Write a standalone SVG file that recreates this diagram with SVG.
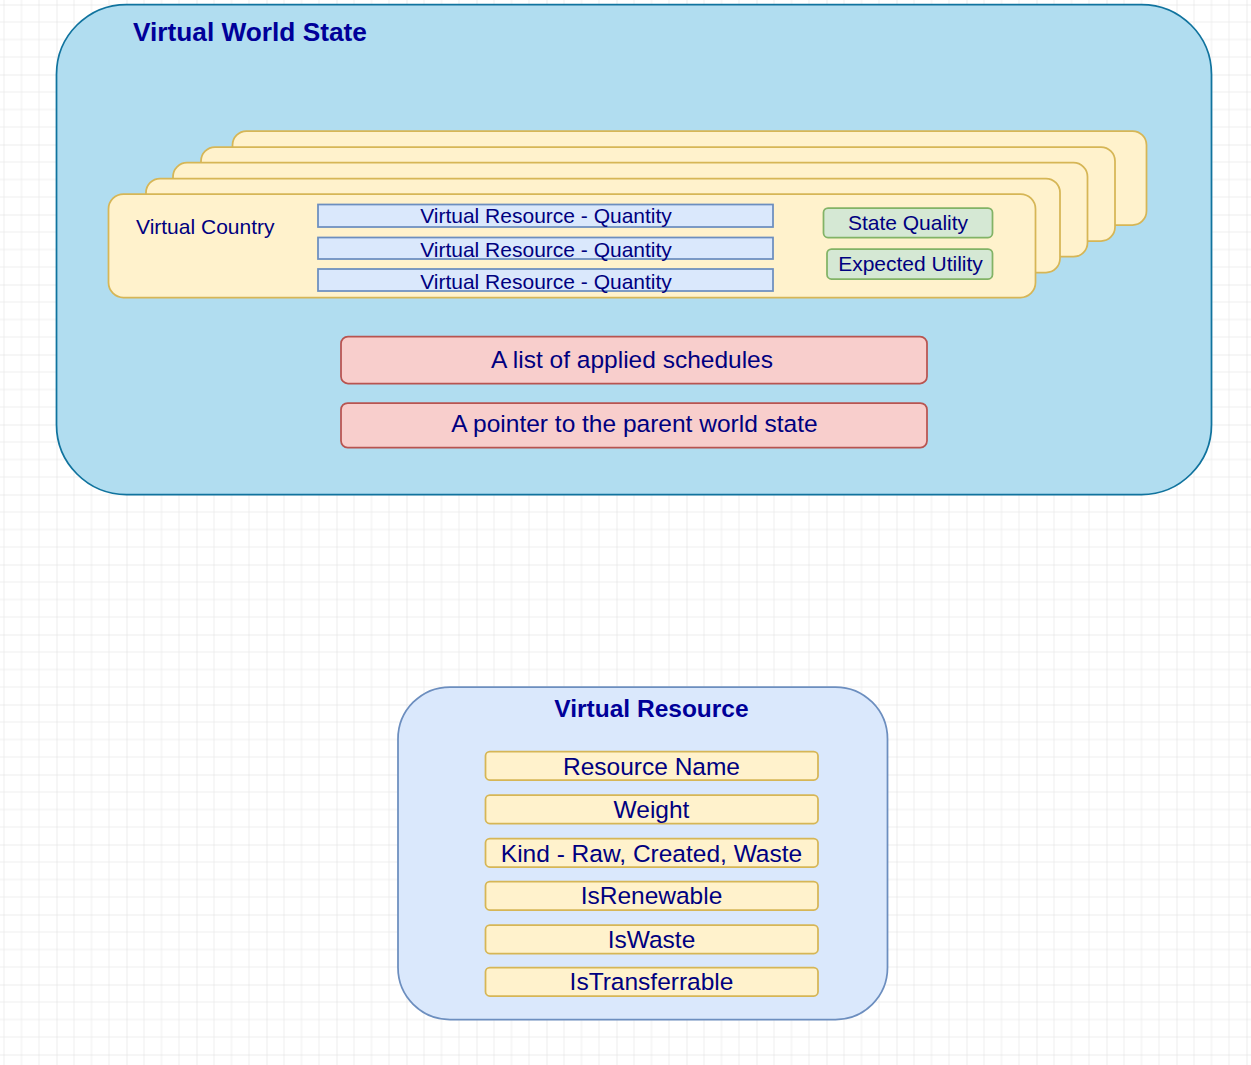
<svg xmlns="http://www.w3.org/2000/svg" width="1251" height="1065" viewBox="0 0 1251 1065">
  <defs>
    <pattern id="grid" patternUnits="userSpaceOnUse" x="-13.5" y="4.5" width="70" height="70">
      <path d="M17.5 0V70M35 0V70M52.5 0V70M0 17.5H70M0 35H70M0 52.5H70" stroke="#eeeeee" stroke-width="1" fill="none"/>
      <path d="M0 0V70M0 0H70" stroke="#dcdcdc" stroke-width="1" fill="none"/>
    </pattern>
    <style>
      .t { font-family: "Liberation Sans", Arial, sans-serif; fill: #000080; }
      .c { text-anchor: middle; }
      .b { font-weight: bold; fill: #000099; }
      .s21 { font-size: 21px; }
      .s24 { font-size: 24.5px; }
      .card { fill: #fff2cc; stroke: #d6b656; stroke-width: 1.75; }
      .qty { fill: #dae8fc; stroke: #6c8ebf; stroke-width: 1.75; }
      .green { fill: #d5e8d4; stroke: #82b366; stroke-width: 1.75; }
      .red { fill: #f8cecc; stroke: #b85450; stroke-width: 1.75; }
    </style>
  </defs>
  <rect x="0" y="0" width="1251" height="1065" fill="#ffffff"/>
  <rect x="0" y="0" width="1251" height="1065" fill="url(#grid)"/>

  <g id="virtual-world-state">
    <rect x="56.5" y="4.5" width="1155" height="490" rx="70" ry="70" fill="#b1ddf0" stroke="#10739e" stroke-width="1.75"/>
    <text class="t b" x="133" y="40.7" font-size="26.25">Virtual World State</text>
  </g>

  <g id="country-stack">
    <rect class="card" x="232.5" y="131" width="914" height="94" rx="14" ry="14"/>
    <rect class="card" x="201" y="147" width="914" height="94" rx="14" ry="14"/>
    <rect class="card" x="173" y="162.7" width="914.5" height="94" rx="14" ry="14"/>
    <rect class="card" x="146" y="178.5" width="914" height="94" rx="14" ry="14"/>
  </g>

  <g id="virtual-country">
    <rect class="card" x="108.5" y="194" width="927" height="103.5" rx="15" ry="15"/>
    <text class="t s21" x="136" y="234">Virtual Country</text>
  </g>

  <g id="resource-quantity-1">
    <rect class="qty" x="318" y="204.5" width="455" height="22.5"/>
    <text class="t c s21" x="546" y="222.5">Virtual Resource - Quantity</text>
  </g>
  <g id="resource-quantity-2">
    <rect class="qty" x="318" y="237.5" width="455" height="21.5"/>
    <text class="t c s21" x="546" y="256.7">Virtual Resource - Quantity</text>
  </g>
  <g id="resource-quantity-3">
    <rect class="qty" x="318" y="269" width="455" height="22"/>
    <text class="t c s21" x="546" y="288.5">Virtual Resource - Quantity</text>
  </g>

  <g id="state-quality">
    <rect class="green" x="823.5" y="208" width="169" height="29.5" rx="4.5" ry="4.5"/>
    <text class="t c s21" x="908" y="230">State Quality</text>
  </g>
  <g id="expected-utility">
    <rect class="green" x="827" y="249" width="165.5" height="30" rx="4.5" ry="4.5"/>
    <text class="t c s21" x="910.5" y="270.7">Expected Utility</text>
  </g>

  <g id="applied-schedules">
    <rect class="red" x="341" y="336.5" width="586" height="47" rx="7" ry="7"/>
    <text class="t c s24" x="632" y="368.3">A list of applied schedules</text>
  </g>
  <g id="parent-pointer">
    <rect class="red" x="341" y="403" width="586" height="44.5" rx="6.7" ry="6.7"/>
    <text class="t c s24" x="634.5" y="431.7">A pointer to the parent world state</text>
  </g>

  <g id="virtual-resource">
    <rect x="398" y="687" width="489.5" height="332.5" rx="52" ry="52" fill="#dae8fc" stroke="#6c8ebf" stroke-width="1.75"/>
    <text class="t c b s24" x="651.5" y="716.7">Virtual Resource</text>
  </g>
  <g id="resource-name">
    <rect class="card" x="485.5" y="751.5" width="332.5" height="28.5" rx="4.3" ry="4.3"/>
    <text class="t c s24" x="651.5" y="775">Resource Name</text>
  </g>
  <g id="weight">
    <rect class="card" x="485.5" y="795" width="332.5" height="28.5" rx="4.3" ry="4.3"/>
    <text class="t c s24" x="651.5" y="817.5">Weight</text>
  </g>
  <g id="kind">
    <rect class="card" x="485.5" y="838.5" width="332.5" height="28.5" rx="4.3" ry="4.3"/>
    <text class="t c s24" x="651.5" y="861.5">Kind - Raw, Created, Waste</text>
  </g>
  <g id="is-renewable">
    <rect class="card" x="485.5" y="881.5" width="332.5" height="28.5" rx="4.3" ry="4.3"/>
    <text class="t c s24" x="651.5" y="903.5">IsRenewable</text>
  </g>
  <g id="is-waste">
    <rect class="card" x="485.5" y="925" width="332.5" height="28.5" rx="4.3" ry="4.3"/>
    <text class="t c s24" x="651.5" y="947.5">IsWaste</text>
  </g>
  <g id="is-transferrable">
    <rect class="card" x="485.5" y="967.5" width="332.5" height="28.5" rx="4.3" ry="4.3"/>
    <text class="t c s24" x="651.5" y="989.5">IsTransferrable</text>
  </g>

  <g id="connectors"></g>
</svg>
